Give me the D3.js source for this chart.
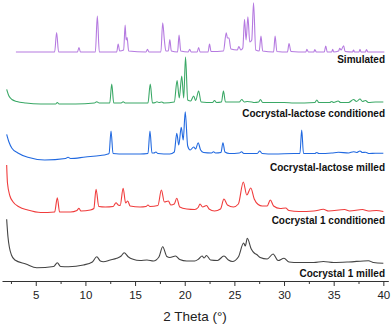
<!DOCTYPE html>
<html>
<head>
<meta charset="utf-8">
<script src="https://cdn.jsdelivr.net/npm/d3@7"></script>
<style>
  body { margin: 0; background: #fff; }
  svg { display: block; font-family: Arial, "Liberation Sans", sans-serif; }
</style>
</head>
<body>
<div id="chart"></div>
<script>
// patterns : [2 theta, intensity above its own baseline]
const simulated = [[3.0,0],[6.9,0],[7.1,19.5],[7.3,0],[9.2,0],[9.35,4.5],[9.5,0],[11.0,0],[11.2,36],[11.4,0],
  [13.15,0],[13.3,8],[13.45,1],[13.85,2],[14.0,27],[14.1,12],[14.2,14.5],[14.35,1],[16.1,0],[16.25,2.7],[16.4,0],
  [17.6,0],[17.78,29.3],[17.95,12],[18.1,1],[18.35,1],[18.5,12.5],[18.65,1],[19.28,0],[19.43,17],[19.6,1],
  [20.35,0],[20.5,2.7],[20.65,0],[21.25,0],[21.4,4.5],[21.55,0],[22.35,0],[22.5,8],[22.65,0.5],
  [23.9,1],[24.18,19.3],[24.3,14],[24.45,14],[24.65,3],[25.3,2],[25.45,5.5],[25.65,2],[25.85,4],[26.02,32.7],
  [26.18,12],[26.36,35.3],[26.55,10],[26.75,12],[26.93,49.3],[27.15,2],[27.5,1],[27.68,16],[27.85,1],
  [28.95,0],[29.1,16],[29.28,0.5],[30.35,0],[30.5,8.5],[30.7,0.5],[32.2,0],[32.3,2.7],[32.45,0],[33.0,0],[33.1,2.5],
  [33.25,0],[34.05,0],[34.2,6],[34.35,0],[34.8,0],[34.9,2.7],[35.0,0],[35.5,1],[35.6,3.7],[35.75,2],[36.0,6.3],
  [36.15,0.5],[36.9,0],[37.0,2],[37.1,0],[37.55,0],[37.65,2.7],[37.75,0],[38.2,0],[38.3,2.5],[38.45,0],[40.1,0]]

const lactoseConditioned = [[2.07,14.2],[2.3,7.5],[2.6,4],[3.1,2],[4.0,0.5],[5.5,-0.5],[7.0,-0.5],[7.17,1],[7.35,-0.5],
  [9.0,-0.5],[10.9,0.5],[11.14,1.8],[11.4,0.5],[12.45,0.5],[12.65,19.5],[12.85,0.5],[13.6,0.5],[13.8,1.8],[14.0,0.5],
  [16.3,0.5],[16.53,19.5],[16.75,0.5],[17.05,1],[17.2,1.8],[17.4,1],[17.7,1.5],[17.9,0.5],
  [18.95,1.5],[19.23,23],[19.45,5.5],[19.7,27.5],[19.9,5.5],[20.08,46.5],[20.3,3.5],[20.6,2.5],[20.9,7.5],[21.1,3],
  [21.4,12.5],[21.65,1.5],[22.8,1],[23.0,3],[23.2,1],[23.7,1.5],[23.9,12.5],[24.1,1.5],
  [25.5,1.5],[25.74,4],[26.0,1.5],[26.3,2],[26.75,1.5],[27.0,1],[27.45,1.5],[27.62,4],[27.85,1],
  [30.0,1],[31.0,0.5],[33.1,1],[33.3,3.5],[33.5,1],[34.6,1],[34.8,2],[35.0,1],[35.45,2.5],[35.7,1],
  [36.5,1],[37.0,4],[37.3,2],[37.65,4.5],[37.9,2],[38.2,3],[38.5,1],[39.2,1.5],[40.0,1.5]]

const lactoseMilled = [[2.07,20.7],[2.3,13],[2.6,6.7],[3.2,2],[4.2,-2.3],[5.9,-5],[8.0,-3.5],[8.25,-2.3],[8.5,-3.5],
  [10.0,-2],[11.5,-0.5],[12.1,0.5],[12.38,1.5],[12.58,24],[12.78,1.5],[14.0,1],[15.5,1],
  [16.3,1.5],[16.5,24],[16.7,2],[16.9,2],[17.1,3],[17.3,1.5],[18.5,1],[18.95,3],[19.2,21.7],[19.4,10],[19.65,27.7],
  [19.85,15],[20.05,43.3],[20.3,9],[20.55,5],[20.9,8],[21.1,6],[21.35,12.3],[21.6,5],[21.9,2.5],
  [22.7,2],[22.9,3.3],[23.1,2],[23.65,2.5],[23.85,12.3],[24.05,3],[24.5,1.5],[25.5,2],[25.72,3.3],[25.95,1.5],
  [27.3,1.5],[27.55,4],[27.8,1.5],[29.0,1],[31.0,1.5],[31.6,1.5],[31.78,25],[31.96,1.5],
  [33.1,1.5],[33.3,2.5],[33.5,1.5],[34.8,2],[35.47,2.7],[36.5,2],[37.0,3.3],[37.3,2.5],[37.65,4],[37.9,2.5],
  [38.2,2.7],[38.6,1.5],[39.2,1.7],[40.0,1.7]]

const cocrystalConditioned = [[2.07,45],[2.15,27],[2.4,14],[2.7,8.3],[3.3,3.3],[4.2,0],[5.5,-2.5],[6.9,-2],[7.17,12.3],
  [7.4,-2],[8.5,-2],[9.15,-0.5],[9.35,1.7],[9.55,-1],[10.5,0],[10.85,1.5],[11.07,20.7],[11.35,3.5],
  [12.0,3],[12.8,3.5],[13.08,7.3],[13.3,5],[13.5,4.5],[13.8,21.7],[14.05,7],[14.26,9],[14.5,4],[15.5,3],
  [16.1,3.5],[16.3,5],[16.5,3.5],[17.3,4.5],[17.65,20],[17.95,8],[18.35,9],[18.6,5],[18.95,6],[19.2,11.7],[19.5,3],
  [20.2,1],[21.0,0.5],[21.35,2.5],[21.54,6],[21.8,3],[22.2,4.5],[22.45,1],[23.0,-1],[23.6,1],[23.95,11],[24.3,5],
  [24.9,3],[25.4,6],[25.9,28],[26.25,15],[26.65,22],[27.0,11],[27.4,5.5],[27.8,4],[28.3,4],[28.62,10],[28.95,4],
  [29.6,1.5],[30.17,2],[30.5,-0.5],[31.5,-1.5],[33.0,-1],[33.96,0.7],[34.5,-1],[36.1,0.5],[36.6,-1],[37.9,0.5],
  [38.5,-1],[39.3,-0.5],[40.0,-1.5]]

const cocrystalMilled = [[2.07,42.7],[2.2,25.3],[2.55,7],[2.9,2],[4.0,-2],[5.1,-5.7],[6.8,-4.5],[7.17,-0.7],[7.5,-4.5],
  [8.3,-4.7],[9.8,-3],[10.7,0],[11.14,5.3],[11.5,1],[11.8,0.3],[12.5,2],[13.15,3.7],[13.6,6],[13.9,9.3],[14.3,5.3],
  [14.8,2.7],[15.5,1.5],[16.2,2],[16.85,1],[17.4,5],[17.78,15.3],[18.2,5.5],[18.5,4.5],[19.08,6],[19.5,2.5],[20.2,1],
  [21.0,1],[21.4,3],[21.75,6],[21.95,4],[22.2,6.5],[22.6,2],[23.3,1.5],[23.95,6],[24.4,2],[24.8,0.5],
  [25.4,5],[25.93,19],[26.1,16],[26.3,23.7],[26.7,13],[27.0,9],[27.25,7.5],[27.6,4.5],[28.3,3],[28.9,8],[29.4,1.5],
  [30.0,3.7],[30.5,0],[31.5,-0.5],[33.0,-0.5],[33.96,0.5],[35.0,-0.5],[36.5,0],[38.5,1.3],[39.0,-0.5],[40.0,-1.3]]

const patterns = [simulated, lactoseConditioned, lactoseMilled, cocrystalConditioned, cocrystalMilled]
const names = ["Simulated", "Cocrystal-lactose conditioned", "Cocrystal-lactose milled", "Cocrystal 1 conditioned", "Cocrystal 1 milled"]
const offsets = [230, 178.5, 127, 72, 20]
const colors = ["#b57ae0", "#3aa866", "#2169e0", "#f03c3c", "#444444"]
const majorTicks = [5, 10, 15, 20, 25, 30, 35, 40]
const minorTicks = [2.5, 7.5, 12.5, 17.5, 22.5, 27.5, 32.5, 37.5]

//------------------------------------------------------------------------------

const W = 392, H = 328
const axisY = 281

const svg = d3.select("#chart").append("svg")
    .attr("width", W)
    .attr("height", H)

const x = d3.scaleLinear().domain([1.6, 40.5]).range([2, 388.3])
// stacked intensity (a.u.)
const y = d3.scaleLinear().domain([0, 282]).range([282, 0])

//------------------------------------------------------------------------------

// minor ticks first, then the labelled ones on top
svg.append("g")
    .attr("transform", "translate(0," + axisY + ")")
    .call(d3.axisBottom(x).tickValues(minorTicks).tickSize(3).tickSizeOuter(0).tickFormat(""))
    .call(g => g.select(".domain").remove())
    .selectAll("line").attr("stroke", "#333")

const xAxis = svg.append("g")
    .attr("transform", "translate(0," + axisY + ")")
    .call(d3.axisBottom(x).tickValues(majorTicks).tickSize(5).tickSizeOuter(0).tickPadding(5))

xAxis.select(".domain").attr("stroke", "#333")
xAxis.selectAll(".tick line").attr("stroke", "#333")
xAxis.selectAll(".tick text")
    .attr("font-size", 11.5)
    .attr("font-family", "Arial, 'Liberation Sans', sans-serif")
    .attr("fill", "#222")

svg.append("text")
    .attr("x", 195)
    .attr("y", 321)
    .attr("text-anchor", "middle")
    .attr("font-size", 13.5)
    .attr("fill", "#222")
    .text("2 Theta (°)")

//------------------------------------------------------------------------------

patterns.forEach((pts, i) => {
    const line = d3.line()
        .x(d => x(d[0]))
        .y(d => y(d[1] + offsets[i]))
        .curve(d3.curveMonotoneX)
    svg.append("path")
        .datum(pts)
        .attr("d", line)
        .attr("fill", "none")
        .attr("stroke", colors[i])
        .attr("stroke-width", 1.1)
        .attr("stroke-linejoin", "round")
})

// labels under each trace, right aligned
const labelY = [63, 117, 171, 224, 277]
names.forEach((n, i) => {
    svg.append("text")
        .attr("x", 385)
        .attr("y", labelY[i])
        .attr("text-anchor", "end")
        .attr("font-size", 10)
        .attr("font-weight", "bold")
        .attr("fill", "#111")
        .text(n)
})
</script>
</body>
</html>
